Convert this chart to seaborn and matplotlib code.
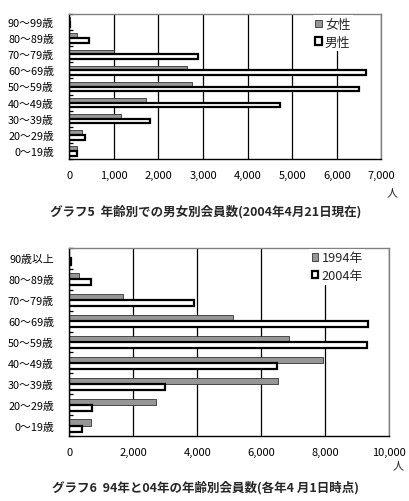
import matplotlib
matplotlib.use("Agg")
import matplotlib.pyplot as plt
import seaborn as sns
import pandas as pd
import numpy as np
from matplotlib.ticker import FuncFormatter, MultipleLocator, FixedLocator

# ---------------- data ----------------
ages1 = ['90～99歳', '80～89歳', '70～79歳', '60～69歳', '50～59歳',
         '40～49歳', '30～39歳', '20～29歳', '0～19歳']
female = [8, 180, 1010, 2650, 2760, 1730, 1150, 290, 165]
male = [25, 450, 2880, 6650, 6490, 4720, 1800, 360, 180]
series1 = ['女性', '男性']

ages2 = ['90歳以上', '80～89歳', '70～79歳', '60～69歳', '50～59歳',
         '40～49歳', '30～39歳', '20～29歳', '0～19歳']
y1994 = [0, 310, 1690, 5120, 6870, 7940, 6530, 2720, 690]
y2004 = [60, 690, 3900, 9340, 9310, 6500, 3000, 720, 410]
series2 = ['1994年', '2004年']

title1 = 'グラフ5  年齢別での男女別会員数(2004年4月21日現在)'
title2 = 'グラフ6  94年と04年の年齢別会員数(各年4 月1日時点)'
unit = '人'

# ---------------- style ----------------
sns.set_theme(style='white')
plt.rcParams['font.family'] = ['Noto Sans CJK JP', 'DejaVu Sans']

fig = plt.figure(figsize=(4.10, 5.02), dpi=100)
W, H = 410, 502


def box(l, t, r, b):
    return [l / W, 1 - b / H, (r - l) / W, (b - t) / H]


ax1 = fig.add_axes(box(69.3, 15, 381.5, 160))
ax2 = fig.add_axes(box(69.3, 249, 389.3, 437))


def draw(ax, cats, a, b, names, xmax, step, leg_anchor):
    df = pd.DataFrame({
        'age': cats * 2,
        'value': list(a) + list(b),
        'series': [names[0]] * len(cats) + [names[1]] * len(cats),
    })
    sns.barplot(data=df, y='age', x='value', hue='series', order=cats,
                hue_order=names, orient='h', width=0.58, gap=0,
                palette=['#969696', 'white'], ax=ax, legend=False,
                saturation=1, zorder=3)
    c0, c1 = ax.containers[0], ax.containers[1]
    for p in c0:
        p.set_facecolor('#969696')
        p.set_edgecolor('#333333')
        p.set_linewidth(0.6)
    for p in c1:
        p.set_facecolor('white')
        p.set_edgecolor('black')
        p.set_linewidth(1.6)

    ax.set_xlim(0, xmax)
    ax.xaxis.set_major_locator(MultipleLocator(step))
    ax.xaxis.set_major_formatter(FuncFormatter(lambda v, pos: f'{int(v):,}'))
    ax.set_xlabel('')
    ax.set_ylabel('')
    ax.grid(axis='x', color='black', linewidth=0.9, zorder=1)
    ax.grid(axis='y', visible=False)
    gl = ax.get_xgridlines()
    if gl:
        gl[-1].set_visible(False)
    ax.set_axisbelow(True)
    ax.tick_params(axis='x', length=0, pad=8, labelsize=8, colors='black')
    ax.tick_params(axis='y', which='major', length=0, pad=11, labelsize=7.8,
                   colors='black')
    ax.yaxis.set_minor_locator(FixedLocator(np.arange(-0.5, len(cats), 1.0)))
    ax.tick_params(axis='y', which='minor', direction='in', length=3,
                   width=0.9, color='black', left=True)
    for s in ['top', 'right']:
        ax.spines[s].set_color('#808080')
        ax.spines[s].set_linewidth(1.0)
    for s in ['left', 'bottom']:
        ax.spines[s].set_color('black')
        ax.spines[s].set_linewidth(1.0)
    for s in ax.spines.values():
        s.set_zorder(4)

    leg = ax.legend([c0.patches[0], c1.patches[0]], names, loc='upper left',
                    bbox_to_anchor=leg_anchor, frameon=True, fancybox=False,
                    facecolor='white', edgecolor='none', framealpha=1,
                    fontsize=9.2, handlelength=0.5, handleheight=0.5,
                    handletextpad=0.25, labelspacing=0.35, borderpad=0.2,
                    borderaxespad=0)
    leg.set_zorder(5)


draw(ax1, ages1, female, male, series1, 7000, 1000, (0.78, 0.99))
draw(ax2, ages2, y1994, y2004, series2, 10000, 2000, (0.75, 0.995))

fig.text(392 / W, 1 - 193 / H, unit, ha='center', va='center', fontsize=8)
fig.text(398 / W, 1 - 466 / H, unit, ha='center', va='center', fontsize=8)
fig.text(206 / W, 1 - 212 / H, title1, ha='center', va='center',
         fontsize=9, fontweight='bold')
fig.text(206 / W, 1 - 488 / H, title2, ha='center', va='center',
         fontsize=9, fontweight='bold')

fig.savefig('out.png', dpi=100)
